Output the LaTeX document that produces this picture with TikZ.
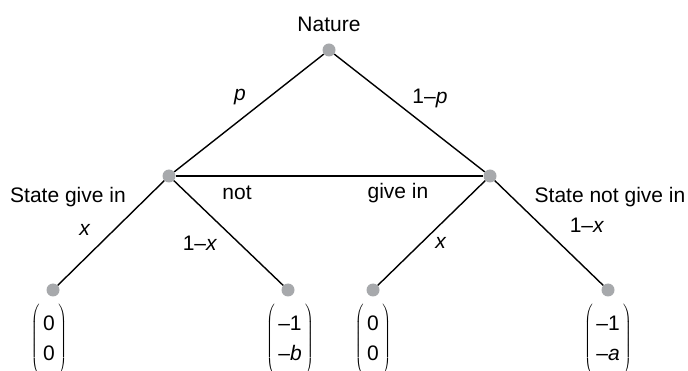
\documentclass[tikz,border=0pt]{standalone}
\usepackage{fontspec}
\setmainfont{Liberation Sans}
\definecolor{dotgray}{RGB}{167,169,172}
\tikzset{
	dot/.style={circle, fill=dotgray, inner sep=0pt, minimum size=13pt},
	branch/.style={line width=1.4pt},
	payoff/.style={inner sep=0pt}
}
\newcommand{\payvec}[2]{$\left(\vrule height 33pt depth 33pt width 0pt\begin{tabular}{@{\,}c@{\,}}#1\\#2\end{tabular}\right)$}
\begin{document}
\begin{tikzpicture}[x=1pt, y=-1pt, font=\fontsize{21}{30}\selectfont]
	\useasboundingbox (0,0) rectangle (688,371);
	\node[dot] (nature) at (329,50) {};
	\node[dot] (lstate) at (169,176) {};
	\node[dot] (rstate) at (490,176) {};
	\node[dot] (leaf1) at (53,290) {};
	\node[dot] (leaf2) at (288,290) {};
	\node[dot] (leaf3) at (373,290) {};
	\node[dot] (leaf4) at (608,290) {};
	\draw[branch] (nature) -- (lstate);
	\draw[branch] (nature) -- (rstate);
	\draw[branch] (lstate) -- (rstate);
	\draw[branch] (lstate) -- (leaf1);
	\draw[branch] (lstate) -- (leaf2);
	\draw[branch] (rstate) -- (leaf3);
	\draw[branch] (rstate) -- (leaf4);
	\node (naturelbl) at (329,24) {Nature};
	\node (plbl) at (240,97) {\textit{p}};
	\node (qlbl) at (430,98) {1–\textit{p}};
	\node (lstatelbl) at (68,197) {State give in};
	\node (rstatelbl) at (610,197) {State not give in};
	\node (notlbl) at (237,193) {not};
	\node (givelbl) at (398,193) {give in};
	\node (x1lbl) at (85,230) {\textit{x}};
	\node (y1lbl) at (200,243) {1–\textit{x}};
	\node (x2lbl) at (441,243) {\textit{x}};
	\node (y2lbl) at (587,225) {1–\textit{x}};
	\node[payoff] (pay1) at (49,341) {\payvec{0}{0}};
	\node[payoff] (pay2) at (290,341) {\payvec{–1}{–\textit{b}}};
	\node[payoff] (pay3) at (373,341) {\payvec{0}{0}};
	\node[payoff] (pay4) at (608,341) {\payvec{–1}{–\textit{a}}};
\end{tikzpicture}
\end{document}
